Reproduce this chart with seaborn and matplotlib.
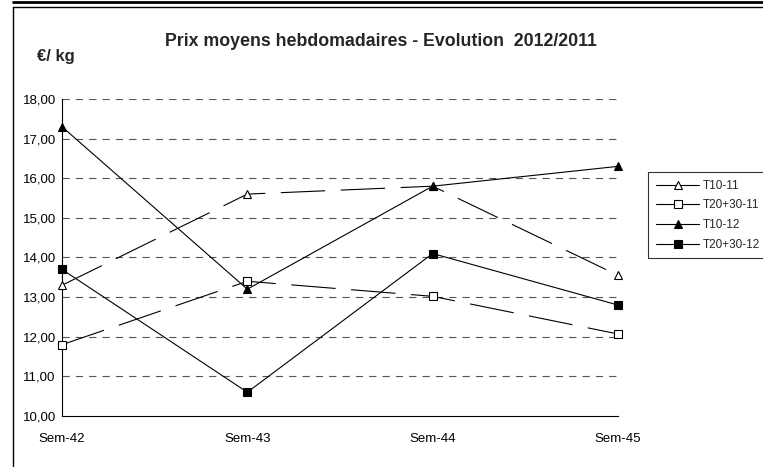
import numpy as np
import pandas as pd
import matplotlib
matplotlib.use("Agg")
import matplotlib.pyplot as plt
import seaborn as sns
from matplotlib.lines import Line2D
from matplotlib.ticker import FuncFormatter

# weekly average prices
weeks = ["Sem-42", "Sem-43", "Sem-44", "Sem-45"]
t10_11 = [13.30, 15.60, 15.80, 13.55]
t2030_11 = [11.80, 13.40, 13.02, 12.07]
t10_12 = [17.30, 13.20, 15.80, 16.30]
t2030_12 = [13.70, 10.60, 14.10, 12.80]
series_names = ["T10-11", "T20+30-11", "T10-12", "T20+30-12"]

sns.set_style("white")
plt.rcParams["font.family"] = ["Liberation Sans", "DejaVu Sans"]

fig = plt.figure(figsize=(7.63, 4.67), dpi=100)
ax = fig.add_axes([62 / 763, 1 - 416 / 467, (618 - 62) / 763, (416 - 99) / 467])

# style for each series: marker, face colour, dashed or not
styles = {
    "T10-11": ("^", "white", True),
    "T20+30-11": ("s", "white", True),
    "T10-12": ("^", "black", False),
    "T20+30-12": ("s", "black", False),
}
values = [t10_11, t2030_11, t10_12, t2030_12]
xpos = np.arange(len(weeks))

# grid first so the lines sit on top
for yv in range(11, 19):
    ax.axhline(yv, color="#555555", lw=0.8, dashes=(6.5, 5.5), zorder=1)

handles = []
for name, vals in zip(series_names, values):
    mk, fc, dashed = styles[name]
    df = pd.DataFrame({"x": xpos, "y": vals})
    kw = dict(dashes=(40, 14)) if dashed else {}
    sns.lineplot(data=df, x="x", y="y", ax=ax, color="black", lw=0.8,
                 marker=mk, markersize=6, markerfacecolor=fc,
                 markeredgecolor="black", markeredgewidth=0.8,
                 zorder=3, clip_on=False, **kw)
    handles.append(Line2D([0], [0], color="black", lw=0.8, marker=mk,
                          markersize=5.5, markerfacecolor=fc,
                          markeredgecolor="black", markeredgewidth=0.8))

ax.set_xlim(0, 3)
ax.set_ylim(10, 18)
ax.set_xticks(xpos)
ax.set_xticklabels(weeks)
ax.set_yticks(range(10, 19))
ax.yaxis.set_major_formatter(FuncFormatter(lambda v, p: f"{v:.2f}".replace(".", ",")))
ax.set_xlabel("")
ax.set_ylabel("")
for s in ["top", "right"]:
    ax.spines[s].set_visible(False)
for s in ["left", "bottom"]:
    ax.spines[s].set_color("black")
    ax.spines[s].set_linewidth(0.8)
ax.tick_params(axis="both", direction="inout", length=7, width=0.8,
               labelsize=9.5, colors="black")
ax.tick_params(axis="y", pad=1)
ax.tick_params(axis="x", pad=9)

fig.text(381 / 763, 1 - 41 / 467, "Prix moyens hebdomadaires - Evolution  2012/2011",
         ha="center", va="center", fontsize=12.8, fontweight="bold")
fig.text(37 / 763, 1 - 57 / 467, "€/ kg", ha="left", va="center",
         fontsize=12, fontweight="bold")

leg = fig.legend(handles, series_names, loc="upper left",
                 bbox_to_anchor=(648 / 763, 1 - 172 / 467), fontsize=8.5,
                 frameon=True, fancybox=False, handlelength=3.7,
                 handletextpad=0.25, borderpad=0.65, labelspacing=0.65,
                 borderaxespad=0)
leg.get_frame().set_edgecolor("black")
leg.get_frame().set_linewidth(0.8)

# outer frame of the chart area and the rule above it
fig.add_artist(Line2D([13 / 763, 13 / 763], [0, 1 - 7 / 467], color="black", lw=1))
fig.add_artist(Line2D([13 / 763, 1], [1 - 7 / 467, 1 - 7 / 467], color="black", lw=1))
fig.add_artist(Line2D([13 / 763, 1], [1 - 2 / 467, 1 - 2 / 467], color="black", lw=2))

fig.savefig("out.png", dpi=100)
